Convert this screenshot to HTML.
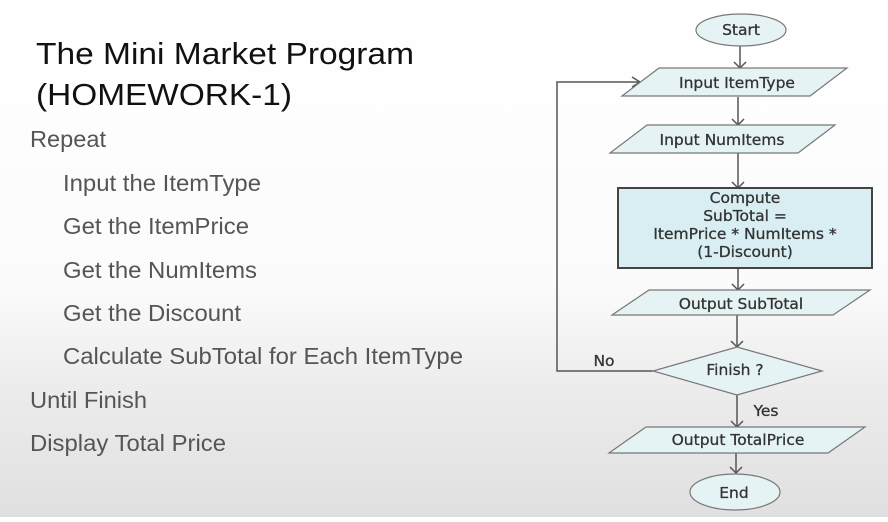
<!DOCTYPE html>
<html><head><style>
html,body{margin:0;padding:0;}
body{width:888px;height:517px;overflow:hidden;}
</style></head><body>
<svg width="888" height="517" xmlns="http://www.w3.org/2000/svg" font-family="Liberation Sans, sans-serif">
<defs>
<linearGradient id="bg" x1="0" y1="0" x2="0" y2="1">
<stop offset="0" stop-color="#ffffff"/>
<stop offset="0.55" stop-color="#fbfbfb"/>
<stop offset="0.75" stop-color="#ececec"/>
<stop offset="1" stop-color="#e0e0e0"/>
</linearGradient>
</defs>
<rect width="888" height="517" fill="url(#bg)"/>
<text x="36" y="64" font-size="31" fill="#111" textLength="378" lengthAdjust="spacingAndGlyphs">The Mini Market Program</text>
<text x="36" y="105" font-size="31" fill="#111" textLength="256" lengthAdjust="spacingAndGlyphs">(HOMEWORK-1)</text>
<g font-size="23" fill="#555">
<text x="30" y="147" textLength="76" lengthAdjust="spacingAndGlyphs">Repeat</text>
<text x="63" y="191" textLength="198" lengthAdjust="spacingAndGlyphs">Input the ItemType</text>
<text x="63" y="234" textLength="186" lengthAdjust="spacingAndGlyphs">Get the ItemPrice</text>
<text x="63" y="278" textLength="194" lengthAdjust="spacingAndGlyphs">Get the NumItems</text>
<text x="63" y="321" textLength="178" lengthAdjust="spacingAndGlyphs">Get the Discount</text>
<text x="63" y="364" textLength="400" lengthAdjust="spacingAndGlyphs">Calculate SubTotal for Each ItemType</text>
<text x="30" y="408" textLength="117" lengthAdjust="spacingAndGlyphs">Until Finish</text>
<text x="30" y="451" textLength="196" lengthAdjust="spacingAndGlyphs">Display Total Price</text>
</g>
<g stroke="#555" stroke-width="1.5" fill="none">
<line x1="740" y1="46" x2="740" y2="68"/>
<line x1="738" y1="97" x2="738" y2="125"/>
<line x1="738" y1="153" x2="738" y2="188"/>
<line x1="738" y1="268" x2="738" y2="290"/>
<line x1="737" y1="315" x2="737" y2="347"/>
<line x1="737" y1="395" x2="737" y2="427"/>
<line x1="736" y1="453" x2="736" y2="473"/>
<polyline points="653,371 557,371 557,82 640,82"/>
<polyline points="734,62 740,68 746,62"/>
<polyline points="732,119 738,125 744,119"/>
<polyline points="732,182 738,188 744,182"/>
<polyline points="732,284 738,290 744,284"/>
<polyline points="731,341 737,347 743,341"/>
<polyline points="731,421 737,427 743,421"/>
<polyline points="730,467 736,473 742,467"/>
<polyline points="632,77 640,82 632,87"/>
</g>
<g stroke="#777" stroke-width="1.2" fill="#e6f3f5">
<ellipse cx="741" cy="30" rx="45" ry="16"/>
<polygon points="659,68 847,68 810,96 622,96"/>
<polygon points="647,125 835,125 798,153 610,153"/>
<rect x="618" y="188" width="254" height="80" fill="#d8eef2" stroke="#444" stroke-width="2"/>
<polygon points="649,290 870,290 833,315 612,315"/>
<polygon points="737,347 822,371 737,395 653,371"/>
<polygon points="646,427 865,427 828,453 609,453"/>
<ellipse cx="735" cy="492" rx="45" ry="18"/>
</g>
<g font-family="DejaVu Sans, sans-serif" font-size="15.5" fill="#333" text-anchor="middle" stroke="#333" stroke-width="0.3">
<text x="741" y="35">Start</text>
<text x="737" y="88">Input ItemType</text>
<text x="722" y="145">Input NumItems</text>
<text x="745" y="203">Compute</text>
<text x="745" y="221">SubTotal =</text>
<text x="745" y="239">ItemPrice * NumItems *</text>
<text x="745" y="257">(1-Discount)</text>
<text x="741" y="309">Output SubTotal</text>
<text x="735" y="375">Finish ?</text>
<text x="738" y="445">Output TotalPrice</text>
<text x="734" y="498">End</text>
<text x="604" y="366">No</text>
<text x="766" y="416">Yes</text>
</g>
</svg>
</body></html>
